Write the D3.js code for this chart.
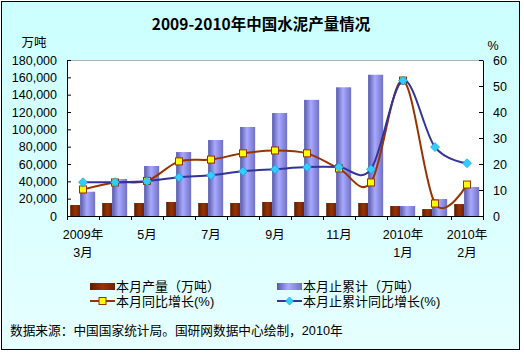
<!DOCTYPE html>
<html>
<head>
<meta charset="utf-8">
<script src="https://cdn.jsdelivr.net/npm/d3@7"></script>
<style>
	body { margin: 0; background: #ffffff; }
	svg text { font-family: "Liberation Sans", "Noto Sans CJK SC", sans-serif; fill: #000; }
	.cjk { font-family: "Noto Sans CJK SC", sans-serif; }
</style>
</head>
<body>
<div id="svg-container"></div>
<script>
// chart values
var categories = ["2009年3月", "4月", "5月", "6月", "7月", "8月", "9月", "10月", "11月", "12月", "2010年1月", "2010年1-2月", "2010年2月"];
var tickLabels = ["2009年\n3月", "", "5月", "", "7月", "", "9月", "", "11月", "", "2010年\n1月", "", "2010年\n2月"];
var production = [12700, 15000, 15000, 16200, 15000, 15000, 16200, 16200, 15000, 15000, 11500, 8000, 13800];
var cumulative = [28000, 42700, 57700, 73800, 87700, 102700, 118800, 134000, 148500, 163000, 11500, 19600, 33500];
var monthGrowth = [10.2, 12.9, 13.5, 21.0, 21.7, 24.1, 25.2, 24.1, 18.3, 12.9, 52.1, 4.8, 12.1];
var cumGrowth = [13.0, 13.0, 13.4, 14.9, 15.7, 17.2, 18.0, 18.8, 18.8, 18.0, 52.1, 26.5, 20.3];
var leftTicks = [0, 20000, 40000, 60000, 80000, 100000, 120000, 140000, 160000, 180000];
var rightTicks = [0, 10, 20, 30, 40, 50, 60];
var seriesNames = ["本月产量（万吨）", "本月止累计（万吨）", "本月同比增长(%)", "本月止累计同比增长(%)"];

var W = 524, H = 353;
var plot = {left: 67, right: 483, top: 60, bottom: 216};

var svg = d3.select('#svg-container')
	.append('svg')
	.attr('width', W)
	.attr('height', H);

var defs = svg.append('defs');

function createGradient(id, stops, horizontal) {
	var g = defs.append('linearGradient')
		.attr('id', id)
		.attr('x1', 0).attr('y1', 0)
		.attr('x2', horizontal ? 1 : 0).attr('y2', horizontal ? 0 : 1);
	stops.forEach(function(s){
		g.append('stop').attr('offset', s[0]).attr('stop-color', s[1]);
	});
}

createGradient('bg', [['0%', '#ccffff'], ['100%', '#e6ffff']], false);
createGradient('brown', [['0%', '#5e1a00'], ['50%', '#993300'], ['100%', '#6e2200']], true);
createGradient('blue', [['0%', '#5858a8'], ['45%', '#a8a8ff'], ['100%', '#7070c4']], true);

// chart background and border
svg.append('rect')
	.attr('x', 1.5).attr('y', 1.5)
	.attr('width', 518).attr('height', 348)
	.attr('fill', 'url(#bg)')
	.attr('stroke', '#000')
	.attr('stroke-width', 1);

// plot area
svg.append('rect')
	.attr('x', plot.left).attr('y', plot.top)
	.attr('width', plot.right - plot.left).attr('height', plot.bottom - plot.top)
	.attr('fill', '#ffffff');
svg.append('line')
	.attr('x1', plot.left).attr('x2', plot.right)
	.attr('y1', plot.top + 0.5).attr('y2', plot.top + 0.5)
	.attr('stroke', '#b0b0b0');

// title
svg.append('text')
	.attr('class', 'cjk')
	.attr('x', 261).attr('y', 30)
	.attr('text-anchor', 'middle')
	.style('font-size', '15.5px')
	.style('font-weight', 'bold')
	.text('2009-2010年中国水泥产量情况');

// scales
var x = d3.scaleBand().domain(categories).range([plot.left, plot.right]).padding(0);
var yLeft = d3.scaleLinear().domain([0, 180000]).range([plot.bottom, plot.top]);
var yRight = d3.scaleLinear().domain([0, 60]).range([plot.bottom, plot.top]);

// bars
var bw = x.bandwidth();
svg.append('g').selectAll('rect')
	.data(production)
	.enter()
	.append('rect')
	.attr('x', function(d, i){ return x(categories[i]) + bw * 0.1; })
	.attr('y', function(d){ return yLeft(d); })
	.attr('width', bw * 0.31)
	.attr('height', function(d){ return yLeft(0) - yLeft(d); })
	.attr('fill', 'url(#brown)');

svg.append('g').selectAll('rect')
	.data(cumulative)
	.enter()
	.append('rect')
	.attr('x', function(d, i){ return x(categories[i]) + bw * 0.41; })
	.attr('y', function(d){ return yLeft(d); })
	.attr('width', bw * 0.47)
	.attr('height', function(d){ return yLeft(0) - yLeft(d); })
	.attr('fill', 'url(#blue)');

// axes
svg.append('g')
	.attr('transform', 'translate(' + plot.left + ',0)')
	.call(d3.axisLeft(yLeft).tickValues(leftTicks).tickFormat(d3.format(',')).tickSize(-4).tickSizeOuter(0).tickPadding(10))
	.call(function(g){ g.selectAll('text').style('font-size', '12.5px').style('font-family', '"Liberation Sans", sans-serif'); });

svg.append('g')
	.attr('transform', 'translate(' + plot.right + ',0)')
	.call(d3.axisRight(yRight).tickValues(rightTicks).tickSize(-4).tickSizeOuter(0).tickPadding(10))
	.call(function(g){ g.selectAll('text').style('font-size', '12.5px').style('font-family', '"Liberation Sans", sans-serif'); });

var xIdx = d3.scaleLinear().domain([0, categories.length]).range([plot.left, plot.right]);
svg.append('g')
	.attr('transform', 'translate(0,' + plot.bottom + ')')
	.call(d3.axisBottom(xIdx).tickValues(d3.range(0, categories.length + 1)).tickFormat('').tickSize(4).tickSizeOuter(0));

svg.selectAll('.domain').attr('stroke', '#000');
svg.selectAll('.tick line').attr('stroke', '#000');

// x labels
var xl = svg.append('g').selectAll('text')
	.data(tickLabels)
	.enter()
	.append('text')
	.attr('x', function(d, i){ return x(categories[i]) + bw / 2; })
	.attr('y', 239)
	.attr('text-anchor', 'middle')
	.style('font-size', '12.5px');
xl.each(function(d){
	var t = d3.select(this);
	d.split('\n').forEach(function(s, k){
		t.append('tspan').attr('x', t.attr('x')).attr('dy', k ? 18 : 0).text(s);
	});
});

// axis unit labels
svg.append('text').attr('x', 34).attr('y', 47).attr('text-anchor', 'middle')
	.style('font-size', '12.5px').text('万吨');
svg.append('text').attr('x', 493).attr('y', 50).attr('text-anchor', 'middle')
	.style('font-size', '12.5px').text('%');

// lines
function drawTrack(data, color) {
	var line = d3.line()
		.x(function(d, i){ return x(categories[i]) + bw / 2; })
		.y(function(d){ return yRight(d); })
		.curve(d3.curveCardinal.tension(0));
	return svg.append('path')
		.datum(data)
		.attr('d', line)
		.attr('fill', 'none')
		.attr('stroke', color)
		.attr('stroke-width', 2);
}

function drawSquares(data) {
	svg.append('g').selectAll('rect')
		.data(data)
		.enter()
		.append('rect')
		.attr('x', function(d, i){ return x(categories[i]) + bw / 2 - 3.5; })
		.attr('y', function(d){ return yRight(d) - 3.5; })
		.attr('width', 7).attr('height', 7)
		.attr('fill', '#ffff00')
		.attr('stroke', '#993300')
		.attr('stroke-width', 1);
}

function diamond(cx, cy, r) {
	return 'M' + cx + ',' + (cy - r) + 'L' + (cx + r) + ',' + cy + 'L' + cx + ',' + (cy + r) + 'L' + (cx - r) + ',' + cy + 'Z';
}

function drawDiamonds(data) {
	svg.append('g').selectAll('path')
		.data(data)
		.enter()
		.append('path')
		.attr('d', function(d, i){ return diamond(x(categories[i]) + bw / 2, yRight(d), 4.5); })
		.attr('fill', '#33ccff')
		.attr('stroke', '#0099cc')
		.attr('stroke-width', 0.6);
}

drawTrack(monthGrowth, '#993300');
drawSquares(monthGrowth);
drawTrack(cumGrowth, '#333399');
drawDiamonds(cumGrowth);

// legend
var lg = svg.append('g').attr('class', 'legend');
lg.append('rect').attr('x', 90).attr('y', 283).attr('width', 25).attr('height', 7).attr('fill', 'url(#brown)');
lg.append('rect').attr('x', 277).attr('y', 283).attr('width', 25).attr('height', 7).attr('fill', 'url(#blue)');
lg.append('line').attr('x1', 90).attr('x2', 115).attr('y1', 301).attr('y2', 301).attr('stroke', '#993300').attr('stroke-width', 2);
lg.append('rect').attr('x', 99).attr('y', 297.5).attr('width', 7).attr('height', 7).attr('fill', '#ffff00').attr('stroke', '#993300');
lg.append('line').attr('x1', 277).attr('x2', 302).attr('y1', 301).attr('y2', 301).attr('stroke', '#333399').attr('stroke-width', 2);
lg.append('path').attr('d', diamond(289.5, 301, 4)).attr('fill', '#33ccff').attr('stroke', '#0099cc').attr('stroke-width', 0.6);

var legendPos = [[116, 290.5], [303, 290.5], [116, 306], [303, 306]];
lg.selectAll('text.lt')
	.data(seriesNames)
	.enter()
	.append('text')
	.attr('class', 'lt')
	.attr('x', function(d, i){ return legendPos[i][0]; })
	.attr('y', function(d, i){ return legendPos[i][1]; })
	.style('font-size', '13px')
	.text(function(d){ return d; });

// footer
svg.append('text')
	.attr('x', 10).attr('y', 335)
	.style('font-size', '12.7px')
	.text('数据来源：中国国家统计局。国研网数据中心绘制，2010年');
</script>
</body>
</html>
